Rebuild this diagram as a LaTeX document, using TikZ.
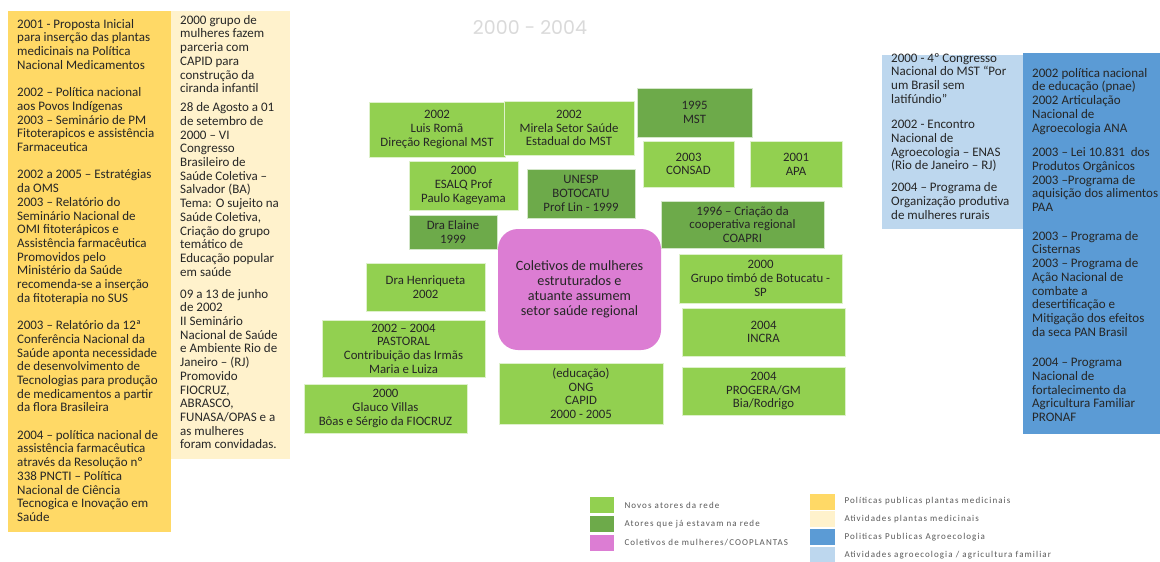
\documentclass[tikz,border=0pt]{standalone}
\usepackage{fontspec}
\setmainfont{Carlito}
\newfontfamily\titlefont{Poppins}
\newfontfamily\legendfont[LetterSpace=12]{Carlito}
\usepackage{tikz}
\usetikzlibrary{positioning}

\definecolor{polpm}{HTML}{FFD966}
\definecolor{atpm}{HTML}{FFF2CC}
\definecolor{polag}{HTML}{5B9BD5}
\definecolor{atag}{HTML}{BDD7EE}
\definecolor{novo}{HTML}{92D050}
\definecolor{antigo}{HTML}{6DAA4A}
\definecolor{coletivo}{HTML}{DC7DD3}
\definecolor{txt}{HTML}{262626}
\definecolor{legtxt}{HTML}{595959}
\definecolor{titulo}{HTML}{DADADA}

\begin{document}
\begin{tikzpicture}[x=1pt, y=-1pt, node distance=10pt,
    box/.style={draw=white!70!#1, line width=0.6pt, fill=#1, inner sep=0pt, align=center, text=txt,
      font=\fontsize{12.8}{13.7}\selectfont},
    novo/.style={box=novo},
    antigo/.style={box=antigo},
    column/.style={fill=#1, anchor=north west, inner sep=0pt},
    coltext/.style={anchor=north west, inner sep=0pt, align=left, text=txt,
      font=\fontsize{13}{13.7}\selectfont},
    swatch/.style={draw=white, line width=0.6pt, fill=#1, minimum width=25pt, minimum height=17pt, inner sep=0pt},
    legtext/.style={inner sep=0pt, anchor=west, text=legtxt, font=\legendfont\fontsize{9}{10}\selectfont}]
    \useasboundingbox[fill=white] (0,0) rectangle (1160,562);

    \node[text=titulo, font=\titlefont\fontsize{19}{22}\selectfont] (titulo) at (530,28) {2000 - 2004};

    \node[column=polpm, minimum width=163pt, minimum height=521pt] (polpm) at (8,11) {};
    \node[column=atpm, minimum width=119pt, minimum height=448pt] (atpm) at (171,11) {};
    \node[column=atag, minimum width=141pt, minimum height=174pt] (atag) at (882,55) {};
    \node[column=polag, minimum width=137pt, minimum height=381pt] (polag) at (1023,53) {};

    \node[coltext] (polpmtxt) at (17,19) {2001 - Proposta Inicial\\para inserção das plantas\\medicinais na Política\\Nacional Medicamentos\\[13.7pt]
      2002 – Política nacional\\aos Povos Indígenas\\2003 – Seminário de PM\\Fitoterapicos e assistência\\Farmaceutica\\[13.7pt]
      2002 a 2005 – Estratégias\\da OMS\\2003 – Relatório do\\Seminário Nacional de\\OMI fitoterápicos e\\Assistência farmacêutica\\Promovidos pelo\\Ministério da Saúde\\recomenda-se a inserção\\da fitoterapia no SUS\\[13.7pt]
      2003 – Relatório da 12ª\\Conferência Nacional da\\Saúde aponta necessidade\\de desenvolvimento de\\Tecnologias para produção\\de medicamentos a partir\\da flora Brasileira\\[13.7pt]
      2004 – política nacional de\\assistência farmacêutica\\através da Resolução nº\\338 PNCTI – Política\\Nacional de Ciência\\Tecnogica e Inovação em\\Saúde};

    \node[coltext] (atpmtxt) at (180,15) {2000 grupo de\\mulheres fazem\\parceria com\\CAPID para\\construção da\\ciranda infantil\\[5.3pt]
      28 de Agosto a 01\\de setembro de\\2000 – VI\\Congresso\\Brasileiro de\\Saúde Coletiva –\\Salvador (BA)\\Tema: O sujeito na\\Saúde Coletiva,\\Criação do grupo\\temático de\\Educação popular\\em saúde\\[8.3pt]
      09 a 13 de junho\\de 2002\\II Seminário\\Nacional de Saúde\\e Ambiente Rio de\\Janeiro – (RJ)\\Promovido\\FIOCRUZ,\\ABRASCO,\\FUNASA/OPAS e a\\as mulheres\\foram convidadas.};

    \node[coltext] (atagtxt) at (891,53) {2000 - 4º Congresso\\Nacional do MST “Por\\um Brasil sem\\latifúndio”\\[12pt]
      2002 - Encontro\\Nacional de\\Agroecologia – ENAS\\(Rio de Janeiro – RJ)\\[8pt]
      2004 – Programa de\\Organização produtiva\\de mulheres rurais};

    \node[coltext] (polagtxt) at (1032,68) {2002 política nacional\\de educação (pnae)\\2002 Articulação\\Nacional de\\Agroecologia ANA\\[11pt]
      2003 – Lei 10.831~~dos\\Produtos Orgânicos\\2003 –Programa de\\aquisição dos alimentos\\PAA\\[15pt]
      2003 – Programa de\\Cisternas\\2003 – Programa de\\Ação Nacional de\\combate a\\desertificação e\\Mitigação dos efeitos\\da seca PAN Brasil\\[17pt]
      2004 – Programa\\Nacional de\\fortalecimento da\\Agricultura Familiar\\PRONAF};

    \node[novo, minimum width=136pt, minimum height=55pt] (roma) at (437,129.5) {2002\\Luis Romã\\Direção Regional MST};
    \node[novo, minimum width=130pt, minimum height=54pt] (mirela) at (569,128) {2002\\Mirela Setor Saúde\\Estadual do MST};
    \node[antigo, minimum width=115pt, minimum height=49pt] (mst) at (694.5,112.5) {1995\\MST};
    \node[novo, minimum width=91pt, minimum height=46pt] (consad) at (688.5,164) {2003\\CONSAD};
    \node[novo, minimum width=92pt, minimum height=46pt] (apa) at (796,164) {2001\\APA};
    \node[novo, minimum width=109pt, minimum height=49pt] (esalq) at (463.5,185.5) {2000\\ESALQ Prof\\Paulo Kageyama};
    \node[antigo, minimum width=108pt, minimum height=49pt] (unesp) at (581,193.5) {UNESP\\BOTOCATU\\Prof Lin - 1999};
    \node[antigo, minimum width=88pt, minimum height=34pt] (elaine) at (453,232) {Dra Elaine\\1999};
    \node[antigo, minimum width=163pt, minimum height=47pt] (coapri) at (742.5,224.5) {1996 – Criação da\\cooperativa regional\\COAPRI};
    \node[box=coletivo, draw=none, rounded corners=20pt, minimum width=163pt, minimum height=121pt,
      font=\fontsize{14.2}{15}\selectfont] (coletivos) at (579.5,289.5) {Coletivos de mulheres\\estruturados e\\atuante assumem\\setor saúde regional};
    \node[novo, minimum width=119pt, minimum height=48pt] (henriqueta) at (425.5,287) {Dra Henriqueta\\2002};
    \node[novo, minimum width=163pt, minimum height=49pt] (timbo) at (760.5,278.5) {2000\\Grupo timbó de Botucatu -\\SP};
    \node[novo, minimum width=163pt, minimum height=57pt] (pastoral) at (403.5,348.5) {2002 – 2004\\PASTORAL\\Contribuição das Irmãs\\Maria e Luiza};
    \node[novo, minimum width=163pt, minimum height=48pt] (incra) at (763.5,332) {2004\\INCRA};
    \node[novo, minimum width=164pt, minimum height=61pt] (capid) at (581,393.5) {(educação)\\ONG\\CAPID\\2000 - 2005};
    \node[novo, minimum width=163pt, minimum height=49pt] (glauco) at (385.5,408.5) {2000\\Glauco Villas\\Bôas e Sérgio da FIOCRUZ};
    \node[novo, minimum width=163pt, minimum height=48pt] (progera) at (763.5,391) {2004\\PROGERA/GM\\Bia/Rodrigo};

    \node[swatch=novo] (sw1) at (601.5,505) {};
    \node[swatch=antigo] (sw2) at (601.5,524) {};
    \node[swatch=coletivo] (sw3) at (601.5,542.5) {};
    \node[legtext, right=10pt of sw1] (lg1) {Novos atores da rede};
    \node[legtext, right=10pt of sw2] (lg2) {Atores que já estavam na rede};
    \node[legtext, right=10pt of sw3] (lg3) {Coletivos de mulheres/COOPLANTAS};

    \node[swatch=polpm, minimum width=26pt] (sw4) at (822,501.5) {};
    \node[swatch=atpm, minimum width=26pt] (sw5) at (822,519) {};
    \node[swatch=polag, minimum width=26pt] (sw6) at (822,537) {};
    \node[swatch=atag, minimum width=26pt] (sw7) at (822,555) {};
    \node[legtext, right=9pt of sw4] (lg4) {Políticas publicas plantas medicinais};
    \node[legtext, right=9pt of sw5] (lg5) {Atividades plantas medicinais};
    \node[legtext, right=9pt of sw6] (lg6) {Politicas Publicas Agroecologia};
    \node[legtext, right=9pt of sw7] (lg7) {Atividades agroecologia / agricultura familiar};
\end{tikzpicture}
\end{document}
